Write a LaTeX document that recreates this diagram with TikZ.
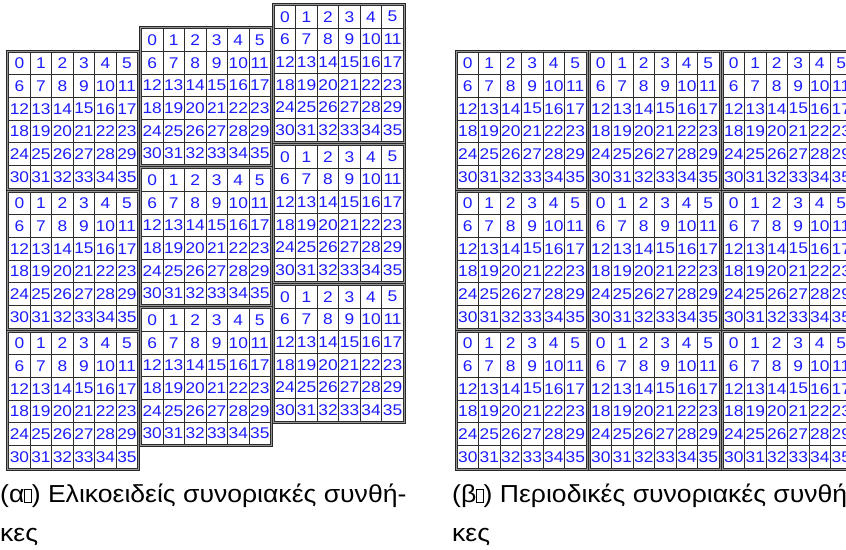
\documentclass[tikz,border=0pt]{standalone}
\usepackage{fontspec}
\setmainfont{Liberation Sans}
\newfontfamily\numfont[FakeStretch=1.12]{Liberation Sans}
\newfontfamily\capfont[FakeStretch=1.08]{Liberation Sans}
\definecolor{numblue}{RGB}{28,28,255}
\definecolor{gridc}{RGB}{45,45,45}
\definecolor{framefill}{RGB}{150,150,150}
\definecolor{framec}{RGB}{40,40,40}
\tikzset{
  blockframe/.style={draw=framec, fill=framefill, line width=0.9pt,
    minimum width=133pt, minimum height=140pt, inner sep=0pt, outer sep=0pt},
  cellbox/.style={draw=gridc, fill=white, line width=0.85pt,
    minimum width=21.5pt, minimum height=22.667pt, inner sep=0pt, outer sep=0pt,
    text=numblue, font=\numfont\fontsize{15.5}{15.5}\selectfont},
  caption/.style={inner sep=0pt, font=\capfont\fontsize{24.6}{24.6}\selectfont, text=black}
}
% empty glyph box used in the sub-figure labels
\newcommand\tofu{{\setlength\fboxsep{0pt}\setlength\fboxrule{0.5pt}%
  \fbox{\rule{0pt}{0.52em}\hspace{0.26em}}}}
% one 6x6 lattice: #1 name, #2 left, #3 top
\newcommand\latblock[3]{%
  \node[blockframe, anchor=north west] (#1) at (#2,#3) {};
  \foreach \rr in {0,...,5}{
    \foreach \cc in {0,...,5}{
      \pgfmathtruncatemacro\idx{6*\rr+\cc}
      \node[cellbox] (#1-\idx) at ({#2+2+21.5*(\cc+0.5)},{#3+2+22.667*(\rr+0.5)}) {\idx};
    }
  }
}
\begin{document}
\begin{tikzpicture}[x=1pt,y=-1pt]
\useasboundingbox (0,0) rectangle (846,549);
\clip (0,0) rectangle (846,549);
\fill[white] (0,0) rectangle (846,549);
% helical boundary conditions: each column shifted up by one row
\foreach \bc in {0,1,2}{
  \foreach \bk in {0,1,2}{
    \pgfmathsetmacro\bx{6.7+132.8*\bc}
    \pgfmathsetmacro\by{50-23.3*\bc+140*\bk}
    \latblock{hel-\bc-\bk}{\bx}{\by}
  }
}
% periodic boundary conditions: plain tiling
\foreach \bc in {0,1,2}{
  \foreach \bk in {0,1,2}{
    \pgfmathsetmacro\bx{455+133*\bc}
    \pgfmathsetmacro\by{50+140*\bk}
    \latblock{per-\bc-\bk}{\bx}{\by}
  }
}
\node[caption, anchor=base west] (capA) at (0,502) {(α\tofu) Ελικοειδείς συνοριακές συνθή-};
\node[caption, anchor=base west] (capA2) at (0,541) {κες};
\node[caption, anchor=base west] (capB) at (452,502) {(β\tofu) Περιοδικές συνοριακές συνθή-};
\node[caption, anchor=base west] (capB2) at (452,541) {κες};
\end{tikzpicture}
\end{document}
